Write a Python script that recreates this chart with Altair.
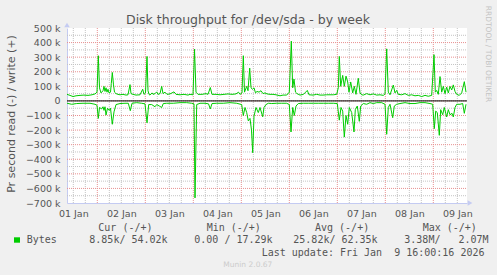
import altair as alt
import pandas as pd

# ---- data (hours since 01 Jan 00:00, values in kB/s) ----
write_h = [8.85, 10.35, 11.85, 13.35, 15.35, 17.35, 19.35, 21.35, 22.85, 23.85, 24.5, 25.1, 25.85, 26.85,
           27.35, 27.85, 28.35, 28.85, 29.35, 29.85, 30.6, 31.0, 31.5, 32.1, 32.6, 33.35, 34.35, 35.35,
           36.85, 38.35, 39.35, 40.35, 40.85, 41.85, 43.35, 45.35, 46.7, 47.35, 48.1, 48.85, 49.35, 49.85,
           50.35, 51.35, 51.85, 52.85, 53.7, 54.35, 55.35, 56.2, 56.85, 57.85, 58.85, 60.35, 62.35, 63.35,
           65.35, 67.35, 69.35, 70.35, 71.85, 72.6, 73.35, 74.35, 76.35, 78.35, 79.35, 80.5, 81.35, 83.35,
           85.35, 87.35, 89.35, 91.35, 93.35, 94.6, 95.35, 96.35, 97.0, 97.6, 98.7, 99.35, 100.2, 100.85,
           101.6, 102.35, 103.1, 103.85, 104.85, 105.85, 106.85, 107.85, 108.85, 110.35, 111.85, 113.35,
           115.35, 116.85, 118.7, 120.0, 121.0, 121.7, 122.35, 123.1, 123.85, 125.35, 127.1, 129.0, 129.85,
           131.85, 133.7, 135.35, 136.85, 138.7, 140.35, 142.0, 143.7, 144.5, 145.0, 145.7, 146.7, 147.5,
           148.35, 149.2, 149.85, 150.7, 151.7, 152.5, 153.35, 154.5, 155.35, 156.2, 157.0, 158.7, 160.35,
           162.0, 163.7, 165.35, 167.0, 167.85, 168.7, 169.5, 170.35, 172.0, 172.85, 173.7, 174.5, 176.2,
           177.85, 179.5, 181.2, 182.85, 184.5, 186.2, 187.85, 189.5, 191.2, 192.35, 193.0, 193.7, 194.5,
           195.35, 196.2, 197.0, 197.85, 198.7, 199.5, 200.35, 201.2, 202.0, 202.85, 203.7, 205.0, 206.2,
           207.5, 208.35]
write_k = [45, 38, 30, 35, 38, 40, 38, 42, 48, 60, 310, 90, 55, 70,
           100, 65, 90, 60, 80, 55, 60, 120, 195, 110, 60, 50, 45, 42,
           45, 40, 42, 112, 50, 45, 40, 42, 80, 45, 55, 305, 70, 45,
           40, 55, 45, 50, 62, 45, 50, 100, 50, 60, 45, 48, 62, 45,
           42, 45, 40, 45, 42, 355, 60, 45, 45, 50, 45, 92, 45, 45,
           42, 45, 48, 45, 48, 60, 45, 55, 310, 60, 100, 70, 225, 90,
           80, 90, 55, 65, 60, 70, 50, 55, 48, 45, 45, 42,
           35, 40, 40, 60, 410, 90, 150, 60, 50, 40, 45, 72, 42,
           40, 45, 40, 40, 42, 42, 42, 45, 90, 305, 100, 175, 100,
           170, 130, 60, 130, 55, 100, 45, 155, 55, 42, 40, 50, 42,
           48, 40, 42, 38, 48, 357, 60, 42, 109, 55, 72, 45, 42,
           50, 38, 42, 35, 38, 30, 38, 32, 38, 317, 60, 72, 45,
           167, 60, 100, 50, 95, 55, 100, 75, 110, 65, 45, 38, 55,
           132, 60]

read_h = [8.85, 11.2, 13.7, 16.85, 20.35, 22.85, 23.85, 24.5, 25.1, 26.2, 26.85, 27.35, 27.85, 28.35,
          29.1, 30.0, 30.6, 31.5, 32.35, 33.35, 35.35, 37.85, 39.5, 40.5, 41.35, 43.7, 46.2, 47.85,
          48.85, 49.7, 51.2, 52.85, 53.7, 55.0, 56.2, 57.0, 58.7, 62.0, 65.35, 68.7, 71.2, 72.35, 72.85,
          73.7, 75.35, 77.85, 79.6, 80.5, 81.35, 83.7, 87.0, 90.35, 93.7, 96.2, 97.0, 97.85, 98.7, 99.5,
          100.35, 101.1, 101.7, 102.35, 103.35, 104.5, 105.35, 106.7, 107.35, 108.35, 109.5, 111.2,
          113.7, 116.2, 118.7, 120.0, 120.85, 121.7, 122.5, 123.35, 124.5, 127.0, 129.5, 132.0, 134.5,
          137.0, 139.5, 142.0, 144.0, 145.0, 145.85, 146.7, 147.5, 148.35, 149.2, 150.0, 151.2, 152.35,
          153.0, 154.0, 155.0, 155.7, 157.0, 158.7, 160.35, 162.0, 163.7, 166.2, 167.85, 168.7, 169.5,
          170.35, 171.7, 172.5, 173.7, 175.35, 177.85, 180.35, 182.85, 185.35, 187.85, 190.35, 191.7,
          192.5, 193.2, 194.0, 195.0, 195.7, 196.7, 197.5, 198.7, 199.5, 200.35, 201.35, 202.0, 202.85,
          203.7, 205.35, 206.7, 207.5, 208.35]
read_k = [16, 23, 18, 16, 16, 23, 30, 120, 45, 55, 40, 65, 40, 97,
          50, 65, 50, 160, 75, 25, 18, 16, 16, 67, 16, 12, 16, 20,
          150, 25, 25, 40, 25, 35, 45, 18, 16, 16, 12, 12, 16, 20, 665,
          25, 16, 16, 20, 55, 18, 16, 16, 12, 16, 25, 100, 45, 80, 137,
          120, 200, 355, 105, 45, 80, 45, 109, 45, 25, 16, 18,
          16, 16, 16, 25, 213, 45, 100, 35, 18, 16, 16, 16, 16,
          16, 16, 16, 18, 132, 45, 70, 248, 100, 160, 45, 80, 213,
          60, 35, 140, 35, 18, 23, 12, 18, 12, 12, 23, 229, 45,
          23, 115, 35, 23, 18, 12, 18, 18, 12, 12, 18, 23,
          190, 70, 80, 236, 60, 95, 45, 110, 60, 95, 85, 110, 45,
          23, 23, 18, 85, 23]

day_label_hours = [12, 36, 60, 84, 108, 132, 156, 180, 204]
day_labels = ["01 Jan", "02 Jan", "03 Jan", "04 Jan", "05 Jan", "06 Jan", "07 Jan", "08 Jan", "09 Jan"]
major_x = [24, 48, 72, 96, 120, 144, 168, 192]
minor_x = [h for h in range(12, 209, 6) if h % 24 != 0]
y_ticks = [-700000, -600000, -500000, -400000, -300000, -200000, -100000, 0,
           100000, 200000, 300000, 400000, 500000]
minor_y = [v + 50000 for v in y_ticks[:-1]]

legend_heads = ["Cur (-/+)", "Min (-/+)", "Avg (-/+)", "Max (-/+)"]
legend_vals = ["8.85k/ 54.02k", "0.00 / 17.29k", "25.82k/ 62.35k", "3.38M/\u00a0\u00a0 2.07M"]
last_update = "Last update: Fri Jan \u00a09 16:00:16 2026"

W, H = 400, 175
GREEN = "#00CC00"
FONT = "#555555"
AXIS = "#C4CBF2"
MINOR = "#C4C4C4"
MAJOR = "#E89090"

xs = alt.Scale(domain=[8.85, 208.85], nice=False, zero=False)
ys = alt.Scale(domain=[-700000, 500000], nice=False, zero=False)

label_expr = "[" + ",".join("'%s'" % s for s in day_labels) + "][round((datum.value-12)/24)]"

X_AXIS = alt.Axis(
    values=day_label_hours, labelExpr=label_expr, title=None, ticks=False, tickSize=0,
    grid=False, domainColor=AXIS, domainWidth=1, labelFont="DejaVu Sans", labelFontSize=9.5,
    labelColor=FONT, labelPadding=13, labelBaseline="alphabetic", labelAlign="center",
    labelFlush=False, labelOverlap=False)
Y_AXIS = alt.Axis(
    values=y_ticks, labelExpr="datum.value == 0 ? '0' : format(datum.value/1000, 'd') + ' k'",
    title="Pr second read (-) / write (+)", titleFont="DejaVu Sans", titleFontSize=11,
    titleFontWeight="normal", titleColor=FONT, titleX=-56, titleY=85.5, titleAngle=-90,
    titleBaseline="middle", titleAlign="center",
    ticks=False, tickSize=0, grid=False, domainColor=AXIS, domainWidth=1,
    labelFont="DejaVu Sans", labelFontSize=9.5, labelColor=FONT, labelPadding=7,
    labelOverlap=False, labelFlush=False)


def X(field="h"):
    return alt.X(field + ":Q", scale=xs, axis=X_AXIS)


def Y(field="v"):
    return alt.Y(field + ":Q", scale=ys, axis=Y_AXIS)


df_w = pd.DataFrame({"h": write_h, "v": [k * 1000 for k in write_k]})
df_r = pd.DataFrame({"h": read_h, "v": [-k * 1000 for k in read_k]})


def vrules(vals, color):
    return alt.Chart(pd.DataFrame({"h": vals})).mark_rule(
        color=color, strokeWidth=1, strokeDash=[1, 1]
    ).encode(x=X(), y=alt.value(0), y2=alt.value(H))


def hrules(vals, color):
    return alt.Chart(pd.DataFrame({"v": vals})).mark_rule(
        color=color, strokeWidth=1, strokeDash=[1, 1]
    ).encode(y=Y(), x=alt.value(0), x2=alt.value(W))


def label(txt, x, y, size=10, font="DejaVu Sans Mono", color=FONT, align="left",
          baseline="alphabetic", angle=0):
    return alt.Chart(pd.DataFrame({"t": [txt]})).mark_text(
        font=font, fontSize=size, color=color, align=align, baseline=baseline, angle=angle
    ).encode(text="t:N", x=alt.value(x), y=alt.value(y))


write_line = alt.Chart(df_w).mark_line(color=GREEN, strokeWidth=1).encode(x=X(), y=Y())
read_line = alt.Chart(df_r).mark_line(color=GREEN, strokeWidth=1).encode(x=X(), y=Y())

zero = alt.Chart(pd.DataFrame({"v": [0]})).mark_rule(color="black", strokeWidth=1).encode(
    y=Y(), x=alt.value(0), x2=alt.value(W))

arrow_t = alt.Chart(pd.DataFrame({"h": [8.85], "v": [500000]})).mark_point(
    shape="triangle-up", filled=True, color=AXIS, size=30, opacity=1, yOffset=-3
).encode(x=X(), y=Y())
arrow_r = alt.Chart(pd.DataFrame({"h": [208.85], "v": [-700000]})).mark_point(
    shape="triangle-right", filled=True, color=AXIS, size=30, opacity=1, xOffset=3
).encode(x=X(), y=Y())

square = alt.Chart(pd.DataFrame({"a": [0]})).mark_rect(color=GREEN).encode(
    x=alt.value(-53), x2=alt.value(-47), y=alt.value(209.3), y2=alt.value(214.7))

layers = [
    vrules(minor_x, MINOR), hrules(minor_y, MINOR),
    vrules(major_x, MAJOR), hrules(y_ticks[1:-1], MAJOR),
    write_line, read_line, zero, arrow_t, arrow_r, square,
    label("Disk throughput for /dev/sda - by week", 181, -3.7, size=12.5, font="DejaVu Sans",
          align="center"),
    label("RRDTOOL / TOBI OETIKER", 420.5, 26, size=7.5, font="DejaVu Sans", color="#C4C4C4",
          align="center", baseline="middle", angle=90),
    label("Bytes", -40.3, 215),
    label(legend_heads[0], 31.3, 202.5), label(legend_heads[1], 139.7, 202.5),
    label(legend_heads[2], 248, 202.5), label(legend_heads[3], 355.7, 202.5),
    label(legend_vals[0], 22.3, 215), label(legend_vals[1], 127.3, 215),
    label(legend_vals[2], 226.3, 215), label(legend_vals[3], 337.3, 215),
    label(last_update, 194.7, 227.5),
    label("Munin 2.0.67", 156.3, 239, size=7.5, font="DejaVu Sans", color="#CCCCCC"),
]

chart = alt.layer(*layers).properties(
    width=W, height=H,
    autosize=alt.AutoSizeParams(type="none"),
    padding={"left": 67, "top": 28, "right": 30, "bottom": 72},
    background="#F0F0F0",
).configure_view(strokeWidth=0, fill="white")

chart.save("out.html", embed_options={"renderer": "svg", "actions": False})
